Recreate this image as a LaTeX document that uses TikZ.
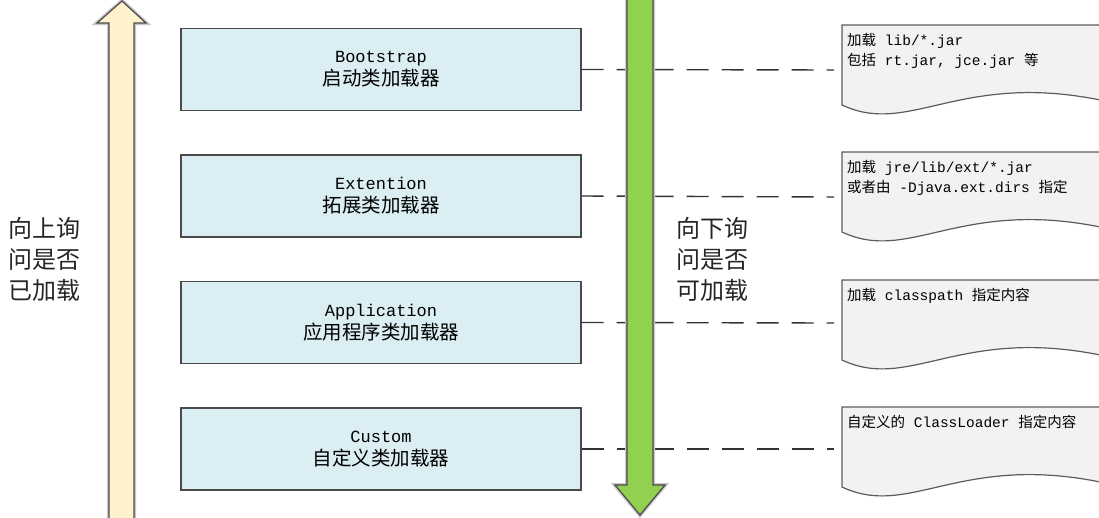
\documentclass[tikz,border=0pt]{standalone}
\usepackage{fontspec}
\setmainfont{Liberation Mono}
\newfontfamily\cjk{Noto Sans CJK SC}
\usetikzlibrary{calc}
\definecolor{cream}{HTML}{FFF2CC}
\definecolor{lgreen}{HTML}{92D050}
\definecolor{lblue}{HTML}{DAEEF3}
\definecolor{docfill}{HTML}{F2F2F2}
\definecolor{edge}{HTML}{4A4A4A}
\tikzset{
  loader/.style={draw=edge, line width=1.2pt, fill=lblue, minimum width=400pt, minimum height=82pt, inner sep=0pt, align=center, font=\fontsize{17}{23}\selectfont},
  halo/.style={draw=gray!45, line width=4pt},
  bigarrow/.style={draw=edge, line width=1.2pt},
  dashline/.style={draw=black!80, line width=1.4pt, dash pattern=on 22pt off 13pt},
  docshape/.style={draw=edge!90, line width=1.2pt, fill=docfill},
  doctext/.style={anchor=north west, inner sep=0pt, align=left, font=\fontsize{14.5}{20}\selectfont},
  sidetext/.style={inner sep=0pt, align=center, font=\cjk\fontsize{24}{31}\selectfont, text=black!85}
}
\newcommand\mydoc[1]{%
  \path[docshape] (842,#1) -- (1105,#1) -- (1105,#1+76)
    .. controls (960,#1+45) and (910,#1+112) .. (842,#1+80) -- cycle;}
\newcommand\zh[1]{{\cjk\fontsize{19.5}{23}\selectfont #1}}
\begin{document}
\begin{tikzpicture}[x=1pt,y=-1pt]
\useasboundingbox (0,0) rectangle (1099,517);
\clip (0,0) rectangle (1099,517);
% yellow upward arrow
\path[halo] (109,520) -- (109,23) -- (97,23) -- (122,1) -- (146,23) -- (134,23) -- (134,520);
\path[bigarrow, fill=cream] (109,520) -- (109,23) -- (97,23) -- (122,1) -- (146,23) -- (134,23) -- (134,520);
% loader boxes
\node[loader] (b1) at (381,69.5) {Bootstrap\\\zh{启动类加载器}};
\node[loader] (b2) at (381,196) {Extention\\\zh{拓展类加载器}};
\node[loader] (b3) at (381,322.5) {Application\\\zh{应用程序类加载器}};
\node[loader] (b4) at (381,449) {Custom\\\zh{自定义类加载器}};
% documents
\mydoc{25}
\mydoc{152}
\mydoc{280}
\mydoc{407}
\node[doctext] (d1) at (847,33) {{\cjk 加载} lib/*.jar\\{\cjk 包括} rt.jar, jce.jar {\cjk 等}};
\node[doctext] (d2) at (847,160) {{\cjk 加载} jre/lib/ext/*.jar\\{\cjk 或者由} -Djava.ext.dirs {\cjk 指定}};
\node[doctext] (d3) at (847,288) {{\cjk 加载} classpath {\cjk 指定内容}};
\node[doctext] (d4) at (847,415) {{\cjk 自定义的} ClassLoader {\cjk 指定内容}};
\coordinate (c1) at (834,70);
\coordinate (c2) at (834,197);
\coordinate (c3) at (834,323);
\coordinate (c4) at (834,449);
\draw[dashline] (b1.east) -- (c1);
\draw[dashline] (b2.east) -- (c2);
\draw[dashline] (b3.east) -- (c3);
\draw[dashline] (b4.east) -- (c4);
% green downward arrow
\path[halo] (627,-5) -- (627,485) -- (615,485) -- (640,515) -- (665,485) -- (653,485) -- (653,-5);
\path[bigarrow, fill=lgreen] (627,-5) -- (627,485) -- (615,485) -- (640,515) -- (665,485) -- (653,485) -- (653,-5);
% side texts
\node[sidetext] (lt) at (45,259) {向上询\\问是否\\已加载};
\node[sidetext] (ct) at (712,259) {向下询\\问是否\\可加载};
\end{tikzpicture}
\end{document}
